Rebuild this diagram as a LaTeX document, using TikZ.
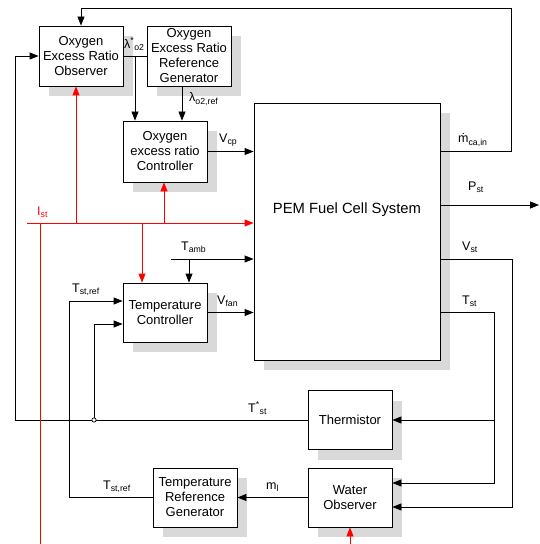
\documentclass[tikz,border=0pt]{standalone}
\usepackage{fontspec}
\setmainfont{Liberation Sans}
\usetikzlibrary{arrows.meta,shadows,calc}
\definecolor{shade}{HTML}{D9D9D9}
\definecolor{redline}{HTML}{FF0000}
\tikzset{
  blk/.style={draw, line width=0.8bp, fill=white, align=center, inner sep=0pt,
    minimum width=84bp, minimum height=60bp, font=\fontsize{13bp}{15bp}\selectfont,
    general shadow={fill=shade, shadow xshift=10bp, shadow yshift=-10bp}},
  wire/.style={line width=0.8bp, draw=black},
  arr/.style={wire, -{Triangle[length=9bp,width=7bp]}},
  rwire/.style={line width=0.8bp, draw=redline},
  rarr/.style={rwire, -{Triangle[length=9bp,width=7bp]}, color=redline},
  lbl/.style={anchor=west, inner sep=0pt, font=\fontsize{12.5bp}{14bp}\selectfont},
}
\begin{document}
\begin{tikzpicture}[x=1bp,y=-1bp]
\useasboundingbox[fill=white] (0,0) rectangle (540,544);
% boxes
\node[blk] (obs) at (81,56) {Oxygen\\Excess Ratio\\Observer};
\node[blk] (gen) at (189,56) {Oxygen\\Excess Ratio\\Reference\\Generator};
\node[blk, minimum height=61bp] (ctrl) at (165,151.5) {Oxygen\\excess ratio\\Controller};
\node[blk, minimum width=186bp, minimum height=257bp, font=\fontsize{14.8bp}{17bp}\selectfont] (pem) at (347,231.5) {PEM Fuel Cell System\\[30bp]};
\node[blk, minimum height=59bp] (tc) at (165,312.5) {Temperature\\Controller};
\node[blk, minimum height=59bp] (th) at (350,420) {Thermistor};
\node[blk, minimum height=59bp] (wo) at (350,497.5) {Water\\Observer};
\node[blk, minimum height=59bp] (trg) at (195,497.5) {Temperature\\Reference\\Generator};
% coordinates
\coordinate (fbR) at (511,8);
\coordinate (lj) at (135,56);
\coordinate (lr) at ($(gen.south)+(-7,0)$);
\coordinate (tamb) at (171,259);
\coordinate (tambj) at (189,259);
\coordinate (ist) at (27,223);
\coordinate (pst) at (539,205);
\coordinate (vstR) at (512,507);
\coordinate (tstR) at (494,483);
\coordinate (tstJ) at (tstR |- th.east);
\coordinate (tsL) at (15,56);
\coordinate (tref) at (69,301);
\coordinate (jc) at (94,420);
% black connectors
\draw[arr] (pem.east |- 0,151) -| (fbR) -| (obs.north);
\draw[wire] (obs.east) -- (gen.west);
\draw[arr] (lj) -- (lj |- ctrl.north);
\draw[arr] (lr) -- (lr |- ctrl.north);
\draw[arr] (ctrl.east) -- (ctrl.east -| pem.west);
\draw[arr] (tamb) -- (tamb -| pem.west);
\draw[arr] (tambj) -- (tambj |- tc.north);
\draw[arr] (tc.east) -- (tc.east -| pem.west);
\draw[arr] (pem.east |- pst) -- (pst);
\draw[arr] (pem.east |- 0,259) -| (vstR) -- (wo.east |- vstR);
\draw[arr] (pem.east |- 0,312) -| (tstR) -- (wo.east |- tstR);
\draw[arr] (tstJ) -- (th.east);
\draw[arr] (th.west) -| (tsL) -- (obs.west);
\draw[arr] (jc) |- (tc.west |- 0,324);
\draw[arr] (trg.west) -| (tref) -- (tc.west |- tref);
\draw[arr] (wo.west) -- (trg.east);
\node[draw, circle, fill=white, line width=0.7bp, inner sep=1.5bp] (jcn) at (jc) {};
% red connectors
\draw[rarr] (ist) -- (ist -| pem.west);
\draw[rwire] (40,223) -- (40,544);
\draw[rarr] (76,223) -- (76,223 |- obs.south);
\draw[rarr] (164,223) -- (164,223 |- ctrl.south);
\draw[rarr] (142,223) -- (142,223 |- tc.north);
\draw[rarr] (wo.south |- 0,544) -- (wo.south);
% labels
\node[lbl] (l1) at (124,44) {λ\textsuperscript{*}\textsubscript{o2}};
\node[lbl] (l2) at (189,99) {λ\textsubscript{o2,ref}};
\node[lbl] (l3) at (219,140) {V\textsubscript{cp}};
\node[lbl] (l4) at (458,140) {ṁ\textsubscript{ca,in}};
\node[lbl] (l5) at (468,187) {P\textsubscript{st}};
\node[lbl] (l6) at (462,247) {V\textsubscript{st}};
\node[lbl] (l7) at (462,301) {T\textsubscript{st}};
\node[lbl, text=redline] (l8) at (37,212) {I\textsubscript{st}};
\node[lbl] (l9) at (181,247) {T\textsubscript{amb}};
\node[lbl] (l10) at (217,301) {V\textsubscript{fan}};
\node[lbl] (l11) at (72,290) {T\textsubscript{st,ref}};
\node[lbl] (l12) at (248,408) {T\textsuperscript{*}\textsubscript{st}};
\node[lbl] (l13) at (103,487) {T\textsubscript{st,ref}};
\node[lbl] (l14) at (266,487) {m\textsubscript{l}};
\end{tikzpicture}
\end{document}
